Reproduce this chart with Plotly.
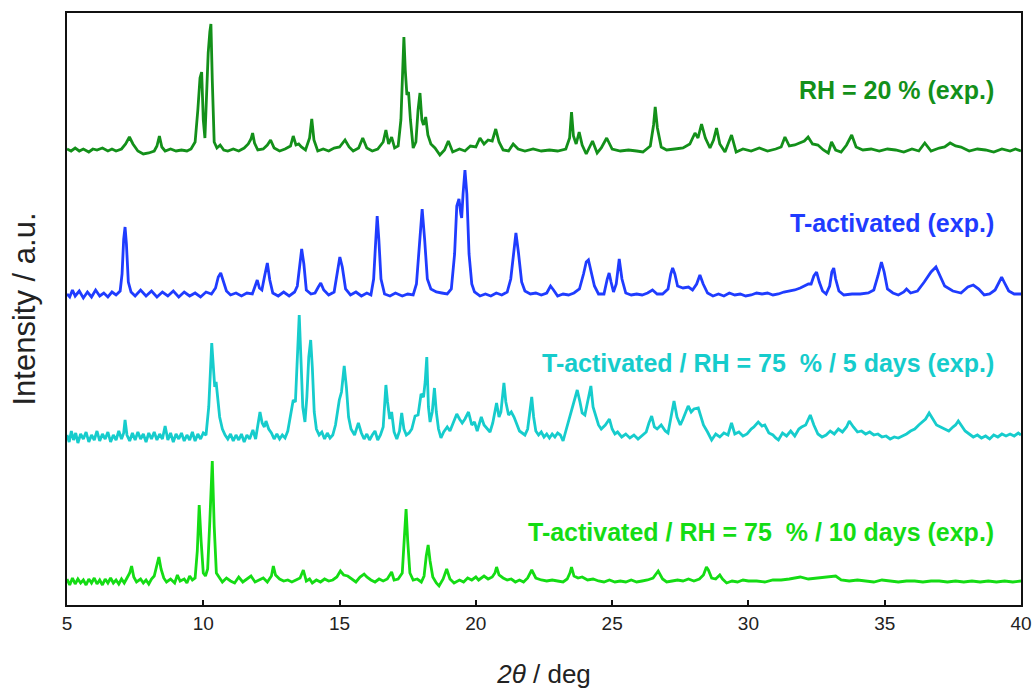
import plotly.graph_objects as go

# Powder XRD patterns: (2theta in deg, intensity above the pattern's own baseline, a.u.)
RH20_POINTS = [
    (5.00, 1), (5.15, -1), (5.3, 2), (5.45, -1), (5.6, 1), (5.8, -2), (5.95, 1), (6.1, 0), (6.3, 2), (6.5, -1),
    (6.65, 1), (6.8, -1), (7.0, 1), (7.15, 6), (7.29, 13), (7.42, 6), (7.6, -1), (7.8, -4), (8.0, -3), (8.2, -1),
    (8.3, 4), (8.39, 14), (8.48, 3), (8.6, -1), (8.8, 1), (9.0, -1), (9.2, 0), (9.4, -1), (9.55, 1), (9.7, 8),
    (9.8, 40), (9.88, 72), (9.94, 78), (10.0, 30), (10.06, 12), (10.12, 60), (10.18, 97), (10.24, 118), (10.28, 126),
    (10.33, 70), (10.40, 8), (10.5, 2), (10.62, 5), (10.75, 0), (10.9, -1), (11.1, 1), (11.3, -1), (11.5, 2),
    (11.65, 6), (11.75, 11), (11.81, 17), (11.88, 7), (12.0, 0), (12.2, 1), (12.35, 5), (12.47, 10), (12.6, 2),
    (12.8, -1), (13.0, 1), (13.2, 4), (13.30, 14), (13.40, 5), (13.5, 6), (13.6, 3), (13.75, 0), (13.9, 12),
    (13.98, 31), (14.06, 10), (14.2, -1), (14.4, 1), (14.6, -1), (14.8, 2), (15.0, 3), (15.2, 10), (15.35, 3),
    (15.5, -1), (15.7, 2), (15.85, 12), (16.0, 2), (16.2, -1), (16.4, 1), (16.6, 8), (16.70, 20), (16.80, 6),
    (16.91, 13), (17.02, 2), (17.15, 4), (17.25, 30), (17.31, 75), (17.36, 113), (17.41, 80), (17.47, 55),
    (17.53, 58), (17.6, 30), (17.7, 2), (17.8, 8), (17.88, 40), (17.95, 57), (18.02, 30), (18.08, 25), (18.16, 33),
    (18.24, 15), (18.35, 6), (18.5, 2), (18.68, -5), (18.85, 0), (18.99, 9), (19.15, -2), (19.4, 1), (19.6, -1),
    (19.8, 4), (20.0, 3), (20.15, 12), (20.3, 6), (20.45, 10), (20.6, 9), (20.73, 21), (20.85, 8), (21.0, 0),
    (21.2, -1), (21.37, 6), (21.55, 1), (21.8, -1), (22.1, 1), (22.4, -1), (22.7, 0), (23.0, -1), (23.3, 1),
    (23.44, 12), (23.51, 38), (23.58, 14), (23.68, 6), (23.79, 18), (23.9, 5), (24.05, -4), (24.28, 9), (24.45, -3),
    (24.6, 2), (24.80, 12), (25.0, 1), (25.3, -1), (25.6, 0), (25.9, -1), (26.13, -2), (26.4, 4), (26.52, 25),
    (26.58, 43), (26.66, 22), (26.8, 3), (27.0, 0), (27.3, 1), (27.6, 2), (27.85, 6), (28.04, 17), (28.15, 12),
    (28.28, 26), (28.42, 12), (28.59, 2), (28.72, 10), (28.83, 22), (28.95, 6), (29.14, -2), (29.38, 15),
    (29.55, -2), (29.8, 1), (30.1, -1), (30.4, 2), (30.7, -1), (31.0, 1), (31.2, 3), (31.34, 13), (31.5, 4),
    (31.7, 5), (31.9, 7), (32.05, 9), (32.19, 13), (32.35, 6), (32.55, 5), (32.75, 0), (32.93, -3), (33.05, 8),
    (33.2, 0), (33.4, -2), (33.6, 5), (33.79, 15), (33.95, 3), (34.2, 0), (34.5, 1), (34.8, -1), (35.1, 1),
    (35.4, 0), (35.7, -2), (36.0, 1), (36.25, -1), (36.47, 7), (36.7, -1), (37.0, 2), (37.2, 3), (37.4, 7),
    (37.6, 4), (37.8, 3), (38.1, -1), (38.4, 1), (38.7, 0), (39.0, -2), (39.3, 1), (39.6, -1), (39.8, 1), (40.0, -1),
]

T_ACT_POINTS = [
    (5.0, 0), (5.1, -3), (5.2, 4), (5.3, -2), (5.45, 3), (5.6, -4), (5.75, 2), (5.9, -3), (6.05, 4), (6.2, -2),
    (6.35, 1), (6.5, -3), (6.65, 2), (6.8, -1), (6.95, 3), (7.02, 20), (7.08, 55), (7.13, 67), (7.18, 50),
    (7.25, 12), (7.35, 2), (7.5, -2), (7.7, 4), (7.9, -2), (8.1, 3), (8.3, -3), (8.5, 2), (8.7, -2), (8.9, 3),
    (9.1, -3), (9.3, 2), (9.5, -2), (9.7, 1), (9.9, -3), (10.1, 2), (10.3, 0), (10.45, 6), (10.55, 17),
    (10.64, 21), (10.73, 14), (10.85, 3), (11.0, -1), (11.2, 1), (11.4, -2), (11.6, 1), (11.8, 0), (11.92, 10),
    (11.98, 14), (12.06, 6), (12.15, 4), (12.25, 18), (12.35, 31), (12.44, 14), (12.55, 1), (12.75, -2),
    (12.95, 2), (13.15, -2), (13.35, 2), (13.45, 8), (13.53, 30), (13.61, 45), (13.69, 30), (13.78, 4),
    (13.95, 0), (14.1, 1), (14.22, 7), (14.31, 11), (14.42, 4), (14.6, -1), (14.8, 2), (14.92, 20), (15.01, 37),
    (15.1, 27), (15.22, 5), (15.4, -1), (15.6, 2), (15.8, -2), (16.0, 1), (16.15, -1), (16.25, 15), (16.32, 50),
    (16.38, 78), (16.44, 55), (16.52, 15), (16.65, 0), (16.85, -2), (17.05, 1), (17.3, -2), (17.5, 0),
    (17.7, -1), (17.82, 10), (17.92, 45), (18.03, 85), (18.12, 55), (18.22, 15), (18.35, 5), (18.55, 2),
    (18.75, 1), (18.95, 0), (19.1, 5), (19.22, 40), (19.3, 88), (19.38, 95), (19.45, 80), (19.48, 76),
    (19.53, 100), (19.6, 124), (19.67, 100), (19.75, 40), (19.85, 10), (19.95, 2), (20.15, -2), (20.35, 0),
    (20.55, -2), (20.75, 1), (20.95, -1), (21.15, 2), (21.28, 15), (21.38, 40), (21.47, 61), (21.56, 42),
    (21.68, 12), (21.8, 3), (22.0, 0), (22.2, 1), (22.4, -1), (22.6, 1), (22.74, 8), (22.85, 4), (23.0, -2),
    (23.2, 0), (23.4, -1), (23.6, 1), (23.8, 5), (23.95, 20), (24.05, 32), (24.13, 34), (24.22, 22), (24.35, 8),
    (24.5, 0), (24.7, 0), (24.82, 15), (24.89, 21), (24.96, 12), (25.05, 2), (25.15, 10), (25.26, 35),
    (25.36, 15), (25.5, 1), (25.7, -1), (25.9, 0), (26.1, -1), (26.3, 1), (26.48, 4), (26.65, 0), (26.85, 0),
    (27.05, 5), (27.15, 20), (27.22, 26), (27.3, 20), (27.4, 8), (27.6, 6), (27.8, 7), (27.95, 4), (28.1, 10),
    (28.22, 19), (28.34, 10), (28.5, 1), (28.7, -2), (28.9, 0), (29.1, -2), (29.3, 1), (29.5, -1), (29.7, 0),
    (29.9, -2), (30.1, -1), (30.3, 1), (30.5, 0), (30.7, 1), (30.9, -1), (31.1, 0), (31.3, 2), (31.5, 3),
    (31.7, 4), (31.9, 6), (32.05, 8), (32.2, 10), (32.3, 10), (32.4, 18), (32.5, 22), (32.6, 12), (32.72, 3),
    (32.85, 0), (32.98, 8), (33.06, 22), (33.13, 26), (33.2, 15), (33.32, 3), (33.5, -1), (33.8, 0), (34.1, 0),
    (34.4, 1), (34.6, 4), (34.75, 18), (34.88, 32), (34.98, 22), (35.1, 5), (35.3, 1), (35.5, -1), (35.7, 2),
    (35.8, 5), (35.95, 1), (36.2, 3), (36.45, 12), (36.7, 22), (36.88, 27), (37.0, 20), (37.2, 8), (37.5, 3),
    (37.8, 1), (38.05, 7), (38.25, 9), (38.45, 5), (38.65, -1), (38.85, 0), (39.05, 4), (39.2, 12), (39.29, 17),
    (39.38, 12), (39.55, 3), (39.75, 0), (40.0, 0),
]

RH75_5D_POINTS = [
    (5.0, 2), (5.08, -5), (5.16, 6), (5.24, -3), (5.32, 4), (5.4, -6), (5.5, 3), (5.6, -2), (5.7, 5), (5.8, -5),
    (5.9, 2), (6.0, -3), (6.1, 6), (6.2, -4), (6.3, 3), (6.4, -2), (6.5, 5), (6.6, -5), (6.7, 2), (6.8, -3),
    (6.9, 6), (7.0, -2), (7.08, 4), (7.13, 17), (7.2, 2), (7.3, -4), (7.4, 4), (7.5, -3), (7.6, 5), (7.7, -2),
    (7.8, 3), (7.9, -5), (8.0, 4), (8.1, -2), (8.2, 5), (8.3, -3), (8.4, 3), (8.5, -2), (8.6, 11), (8.7, -3),
    (8.8, 4), (8.9, -5), (9.0, 3), (9.1, -2), (9.2, 4), (9.3, -4), (9.4, 2), (9.5, -3), (9.6, 5), (9.7, -4),
    (9.8, 3), (9.9, -2), (10.0, 4), (10.1, 2), (10.2, 30), (10.26, 75), (10.31, 94), (10.37, 70), (10.42, 50),
    (10.47, 55), (10.53, 35), (10.6, 20), (10.7, 8), (10.8, 2), (10.9, -2), (11.0, 3), (11.1, -4), (11.2, 2),
    (11.3, -3), (11.4, 3), (11.5, -5), (11.6, 2), (11.7, -2), (11.82, 7), (11.92, -2), (12.0, 10), (12.08, 25),
    (12.16, 14), (12.24, 10), (12.3, 16), (12.4, 8), (12.5, 4), (12.6, -2), (12.7, 3), (12.8, -2), (12.9, 2),
    (13.0, -1), (13.1, 6), (13.22, 25), (13.3, 37), (13.38, 35), (13.45, 80), (13.52, 122), (13.58, 80),
    (13.65, 30), (13.73, 15), (13.8, 40), (13.87, 80), (13.94, 97), (14.0, 70), (14.07, 25), (14.15, 8),
    (14.25, 2), (14.35, 5), (14.45, -2), (14.55, 4), (14.65, -1), (14.75, 2), (14.85, 12), (14.99, 37),
    (15.07, 45), (15.17, 71), (15.25, 50), (15.33, 20), (15.42, 8), (15.55, 2), (15.69, 14), (15.8, 4),
    (15.9, -2), (16.0, 3), (16.1, -3), (16.2, 2), (16.3, 6), (16.4, -3), (16.5, 2), (16.6, 10), (16.65, 35),
    (16.70, 52), (16.76, 35), (16.84, 18), (16.91, 25), (17.0, 5), (17.1, -2), (17.2, 6), (17.28, 24),
    (17.36, 8), (17.45, 2), (17.55, 4), (17.65, 8), (17.77, 21), (17.88, 22), (17.99, 43), (18.08, 40),
    (18.14, 55), (18.20, 80), (18.26, 30), (18.32, 15), (18.4, 25), (18.48, 49), (18.55, 25), (18.63, 8),
    (18.72, -1), (18.82, 5), (18.95, 10), (19.05, 6), (19.18, 14), (19.3, 23), (19.4, 18), (19.5, 14),
    (19.6, 18), (19.73, 25), (19.85, 12), (19.95, 15), (20.05, 6), (20.2, 20), (20.3, 12), (20.42, 8),
    (20.52, 5), (20.62, 14), (20.76, 34), (20.85, 20), (20.92, 25), (21.03, 54), (21.1, 35), (21.2, 22),
    (21.3, 25), (21.4, 20), (21.5, 12), (21.6, 6), (21.7, 4), (21.8, 2), (21.9, 8), (21.98, 25), (22.05, 40),
    (22.12, 20), (22.2, 6), (22.3, 2), (22.4, 5), (22.5, 0), (22.6, 3), (22.7, -1), (22.8, 3), (22.9, 0),
    (23.0, 4), (23.1, 2), (23.2, -4), (23.3, 6), (23.45, 20), (23.57, 32), (23.72, 47), (23.82, 35), (23.9, 24),
    (24.0, 22), (24.1, 35), (24.16, 45), (24.22, 51), (24.3, 30), (24.4, 20), (24.5, 12), (24.6, 8),
    (24.75, 12), (24.9, 18), (25.0, 8), (25.1, 3), (25.2, 5), (25.35, 0), (25.5, 3), (25.65, -1), (25.8, 2),
    (25.95, -2), (26.1, 2), (26.25, 5), (26.35, 14), (26.45, 21), (26.55, 10), (26.65, 8), (26.8, 12),
    (26.95, 6), (27.05, 4), (27.15, 20), (27.27, 36), (27.38, 20), (27.5, 12), (27.6, 18), (27.7, 24),
    (27.79, 31), (27.9, 25), (28.0, 28), (28.16, 29), (28.25, 20), (28.35, 12), (28.5, 5), (28.65, -3),
    (28.8, 3), (28.95, 0), (29.1, 4), (29.25, 2), (29.38, 14), (29.5, 3), (29.65, 5), (29.8, 1), (29.95, 3),
    (30.1, 8), (30.2, 10), (30.36, 15), (30.5, 11), (30.6, 12), (30.75, 4), (30.9, 2), (31.0, -1), (31.1, -3),
    (31.25, 4), (31.4, 1), (31.55, 6), (31.7, 1), (31.85, 8), (31.95, 10), (32.1, 12), (32.2, 18), (32.27, 22),
    (32.4, 12), (32.55, 3), (32.7, 0), (32.85, 2), (33.0, 6), (33.15, 3), (33.3, 8), (33.45, 5), (33.6, 10),
    (33.7, 16), (33.85, 10), (34.0, 5), (34.15, 6), (34.3, 3), (34.45, 5), (34.6, 2), (34.75, 3), (34.9, 0),
    (35.05, 1), (35.2, -2), (35.35, 0), (35.5, -1), (35.65, 1), (35.8, 3), (35.95, 6), (36.1, 8), (36.25, 12),
    (36.4, 16), (36.5, 18), (36.63, 24), (36.75, 18), (36.9, 12), (37.05, 10), (37.2, 8), (37.35, 6),
    (37.5, 10), (37.6, 12), (37.7, 16), (37.8, 12), (37.95, 6), (38.1, 3), (38.25, 0), (38.4, 2), (38.55, -1),
    (38.7, 1), (38.85, -2), (39.0, 2), (39.15, 0), (39.3, 3), (39.45, 1), (39.6, 3), (39.75, 1), (39.9, 4),
    (40.0, 2),
]

RH75_10D_POINTS = [
    (5.0, 2), (5.1, -4), (5.2, 3), (5.3, -3), (5.4, 2), (5.5, -2), (5.6, 1), (5.7, -4), (5.8, 2), (5.9, -2),
    (6.0, 3), (6.1, -3), (6.2, 1), (6.3, -4), (6.4, 2), (6.5, -2), (6.6, 3), (6.7, -2), (6.8, 1), (6.9, -3),
    (7.0, 2), (7.1, -2), (7.2, 3), (7.3, 8), (7.37, 15), (7.45, 4), (7.55, -1), (7.7, 2), (7.8, -2), (7.9, 1),
    (8.0, -3), (8.1, 2), (8.2, 5), (8.3, 15), (8.37, 24), (8.45, 12), (8.55, 3), (8.65, -1), (8.8, 2),
    (8.95, -2), (9.05, 6), (9.15, 0), (9.3, 2), (9.4, -2), (9.5, 5), (9.6, 1), (9.7, 3), (9.78, 30),
    (9.85, 76), (9.92, 40), (10.0, 8), (10.08, 5), (10.16, 12), (10.24, 60), (10.33, 120), (10.4, 55),
    (10.48, 8), (10.6, 3), (10.7, -1), (10.85, 3), (11.0, 0), (11.15, -2), (11.3, 4), (11.45, -1), (11.6, 2),
    (11.75, 5), (11.9, -1), (12.05, 1), (12.2, 3), (12.35, -1), (12.5, 5), (12.57, 15), (12.65, 6), (12.8, 2),
    (12.95, 0), (13.1, 1), (13.25, -1), (13.4, 1), (13.55, 3), (13.67, 11), (13.78, 0), (13.9, 2), (14.0, -2),
    (14.15, 1), (14.3, -1), (14.45, 2), (14.6, 0), (14.75, 1), (14.9, 4), (15.03, 10), (15.15, 6), (15.3, 5),
    (15.45, 2), (15.6, -1), (15.75, 4), (15.9, 7), (16.0, 4), (16.15, 1), (16.3, -1), (16.45, 2), (16.6, 0),
    (16.75, 2), (16.91, 9), (17.0, 1), (17.15, 2), (17.3, 8), (17.38, 45), (17.44, 72), (17.5, 40), (17.58, 8),
    (17.7, 1), (17.85, 2), (18.0, -1), (18.1, 5), (18.18, 25), (18.25, 36), (18.32, 20), (18.42, 4),
    (18.55, -2), (18.65, -5), (18.8, 2), (18.93, 12), (19.05, 2), (19.2, -2), (19.4, 1), (19.55, -1), (19.7, 3),
    (19.85, 1), (20.0, 4), (20.1, 1), (20.3, 5), (20.45, 2), (20.6, 4), (20.7, 8), (20.76, 14), (20.85, 6),
    (21.0, 3), (21.15, 1), (21.3, 2), (21.45, -1), (21.6, 1), (21.75, -1), (21.9, 3), (22.05, 11), (22.2, 3),
    (22.4, 1), (22.6, 0), (22.8, 1), (23.0, 0), (23.2, -1), (23.35, 2), (23.45, 8), (23.51, 14), (23.6, 5),
    (23.75, 3), (23.9, 4), (24.1, 1), (24.3, 2), (24.5, 0), (24.7, -1), (24.9, 1), (25.1, -1), (25.3, 0),
    (25.5, -1), (25.7, 1), (25.9, -1), (26.1, 0), (26.3, 1), (26.5, 3), (26.69, 10), (26.85, 2), (27.0, -1),
    (27.2, 0), (27.4, 1), (27.6, 0), (27.8, 2), (28.0, 0), (28.2, 2), (28.35, 6), (28.46, 14), (28.53, 11),
    (28.65, 3), (28.8, 2), (28.95, 6), (29.05, 2), (29.2, -2), (29.4, 0), (29.6, -1), (29.8, 1), (30.0, 0),
    (30.3, 0), (30.6, -1), (30.9, 1), (31.2, 1), (31.5, 2), (31.7, 3), (31.9, 4), (32.2, 2), (32.5, 3),
    (32.75, 4), (33.0, 5), (33.2, 5), (33.4, 1), (33.7, 0), (34.0, 1), (34.3, 0), (34.6, -1), (34.9, 1),
    (35.2, 0), (35.5, -1), (35.8, 0), (36.1, 0), (36.4, -1), (36.7, 0), (37.0, 0), (37.3, -1), (37.6, 0),
    (37.9, -1), (38.2, 0), (38.5, -1), (38.8, 0), (39.1, -1), (39.4, 0), (39.7, -1), (40.0, 0),
]

# Series labels, colours and vertical stacking offsets
LABELS = [
    "RH = 20 % (exp.)",
    "T-activated (exp.)",
    "T-activated / RH = 75  % / 5 days (exp.)",
    "T-activated / RH = 75  % / 10 days (exp.)",
]
COLORS = ["#13901a", "#1f3cff", "#16cccc", "#14dc14"]
OFFSETS = [455, 311, 168, 24]
LABEL_Y = [515, 382, 242, 73]
SERIES = [RH20_POINTS, T_ACT_POINTS, RH75_5D_POINTS, RH75_10D_POINTS]

X_TICKS = [5, 10, 15, 20, 25, 30, 35, 40]

fig = go.Figure()
for pts, color, off, name in zip(SERIES, COLORS, OFFSETS, LABELS):
    xs = [p[0] for p in pts]
    ys = [p[1] + off for p in pts]
    fig.add_trace(go.Scatter(x=xs, y=ys, mode="lines", name=name,
                             line=dict(color=color, width=2.8), showlegend=False))

for name, color, ly in zip(LABELS, COLORS, LABEL_Y):
    fig.add_annotation(x=39.08, y=ly, xref="x", yref="y", text=f"<b>{name}</b>",
                       showarrow=False, xanchor="right", yanchor="middle",
                       font=dict(family="Liberation Sans, Arial", size=25, color=color))

axis_font = dict(family="Liberation Sans, Arial", size=19, color="#222")
fig.update_layout(
    width=1035, height=691,
    margin=dict(l=67, r=14, t=13, b=86),
    paper_bgcolor="white", plot_bgcolor="white",
    xaxis=dict(range=[5, 40], tickvals=X_TICKS, ticktext=[str(t) for t in X_TICKS],
               automargin=False,
               showgrid=False, zeroline=False, showline=True, linecolor="#111", linewidth=2,
               mirror=True, ticks="inside", ticklen=5, tickwidth=1.5, tickcolor="#111",
               tickfont=axis_font,
               title=dict(text="<i>2θ</i> / deg", font=dict(family="Liberation Sans, Arial", size=26, color="#222"),
                          standoff=32)),
    yaxis=dict(range=[0, 592], showticklabels=False, ticks="", showgrid=False, zeroline=False,
               automargin=False,
               showline=True, linecolor="#111", linewidth=2, mirror=True,
               title=dict(text="Intensity / a.u.", font=dict(family="Liberation Sans, Arial", size=31, color="#222"),
                          standoff=20)),
)

fig.write_html("out.html")
